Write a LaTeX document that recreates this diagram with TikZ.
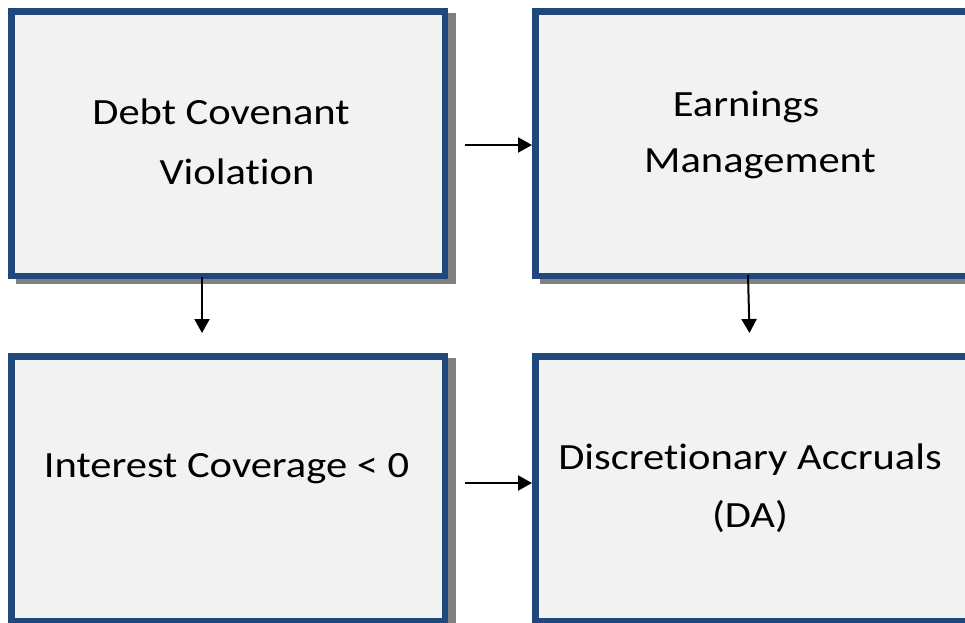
\documentclass[tikz,border=0pt]{standalone}
\usepackage{fontspec}
\setmainfont{Carlito}[FakeStretch=1.15,Ligatures=NoCommon]
\usetikzlibrary{arrows.meta,positioning,backgrounds}
\definecolor{boxblue}{RGB}{31,73,125}
\definecolor{boxfill}{RGB}{242,242,242}
\definecolor{shadowgray}{RGB}{128,128,128}

\begin{document}
\begin{tikzpicture}[x=1pt,y=-1pt,
  box/.style={draw=boxblue,fill=boxfill,line width=6.5pt,
    minimum width=433.5pt,minimum height=264.5pt,inner sep=0pt},
  lbl/.style={font=\fontsize{37}{#1}\selectfont,align=center,anchor=base},
  lbl/.default=58,
  arr/.style={-{Triangle[length=14pt,width=15pt]},line width=2pt}]
\useasboundingbox (0,0) rectangle (965,622);
\node[box] (tl) at (228,143.5) {};
\node[box,right=84pt of tl] (tr) {};
\node[box,below=74pt of tl] (bl) {};
\node[box,right=84pt of bl] (br) {};
% shadows
\begin{scope}[on background layer]
\foreach \n in {tl,tr,bl,br}
  \fill[shadowgray] ([shift={(8,5)}]\n.south west) rectangle ([shift={(8,5)}]\n.north east);
\end{scope}

% labels (base = last line)
\node[lbl=60] (tltext) at (237,184) {Debt Covenant\hspace*{32pt}\\Violation};
\node[lbl=56] (trtext) at (760,172) {Earnings\hspace*{28pt}\\Management};
\node[lbl] (bltext) at (226.5,477) {Interest Coverage < 0};
\node[lbl] (brtext) at (750,527) {Discretionary Accruals\\(DA)};

\draw[arr] ([xshift=17pt,yshift=-1.5pt]tl.east) -- ([yshift=-1.5pt]tr.west);
\draw[arr] ([xshift=17pt,yshift=5.5pt]bl.east) -- ([yshift=5.5pt]br.west);
\draw[arr,shorten >=20pt] ([xshift=-26pt,yshift=2pt]tl.south) -- ([xshift=-26pt]bl.north);
\draw[arr,shorten >=20pt] ([xshift=-4pt,yshift=4pt]tr.south) -- ([xshift=-2pt]br.north);
\end{tikzpicture}
\end{document}
